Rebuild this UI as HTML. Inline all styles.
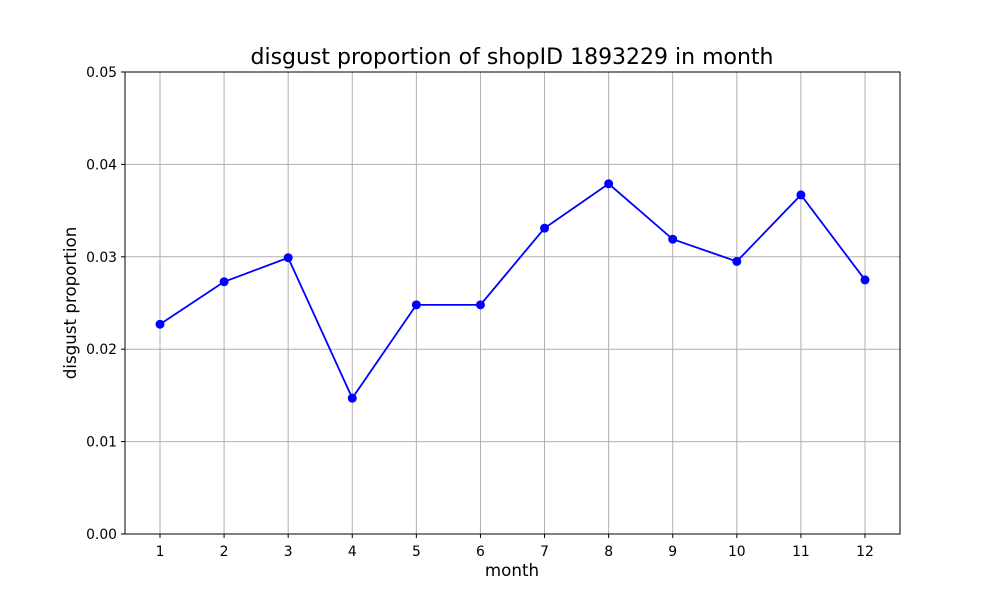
<!DOCTYPE html>
<html><head><meta charset="utf-8"><style>
body{margin:0;background:#fff;}
svg{display:block;font-family:"DejaVu Sans","Liberation Sans",sans-serif;}
</style></head><body>
<svg id="chart" width="1000" height="600">
<rect width="1000" height="600" fill="#fff"/>
<g id="grid"></g>
<g id="axes"></g>
<g id="series"></g>
<text x="512" y="64" text-anchor="middle" font-size="22">disgust proportion of shopID 1893229 in month</text>
<text x="512" y="576" text-anchor="middle" font-size="16.7">month</text>
<text x="76" y="303" text-anchor="middle" font-size="16.7" transform="rotate(-90 76 303)">disgust proportion</text>
</svg>
<script>
const months = [1,2,3,4,5,6,7,8,9,10,11,12];
const values = [0.0227,0.0273,0.0299,0.0147,0.0248,0.0248,0.0331,0.0379,0.0319,0.0295,0.0367,0.0275];
const yTicks = [0,0.01,0.02,0.03,0.04,0.05];
const yTickLabels = ["0.00","0.01","0.02","0.03","0.04","0.05"];

const L=125,R=900,T=72,B=534;
const x = m => 160 + (m-1)*(865-160)/11;
const y = v => B - (v/0.05)*(B-T);
const NS="http://www.w3.org/2000/svg";
function mk(tag, attrs, parent){const e=document.createElementNS(NS,tag);for(const k in attrs)e.setAttribute(k,attrs[k]);parent.appendChild(e);return e;}
const grid=document.getElementById('grid'), axes=document.getElementById('axes'), series=document.getElementById('series');

months.forEach(m=>{
  const gl=mk('line',{x1:x(m),x2:x(m),y1:T,y2:B,stroke:'#b0b0b0','stroke-width':1},grid);
  
  
  const tk=mk('line',{x1:x(m),x2:x(m),y1:B,y2:B+4,stroke:'#000'},axes);
  
  
  const t=mk('text',{x:x(m),y:B+22,'text-anchor':'middle','font-size':13.9},axes);
  t.textContent=m;
  
  
});
yTicks.forEach((v,i)=>{
  const gl=mk('line',{x1:L,x2:R,y1:y(v),y2:y(v),stroke:'#b0b0b0','stroke-width':1},grid);
  
  
  const tk=mk('line',{x1:L-4,x2:L,y1:y(v),y2:y(v),stroke:'#000'},axes);
  
  
  const t=mk('text',{x:L-8,y:y(v)+5,'text-anchor':'end','font-size':13.9},axes);
  t.textContent=yTickLabels[i];
  
  
});
const frame=mk('rect',{x:L,y:T,width:R-L,height:B-T,fill:'none',stroke:'#000','stroke-width':1},axes);



const pl=mk('polyline',{points:months.map((m,i)=>x(m)+','+y(values[i])).join(' '),fill:'none',stroke:'#0000ff','stroke-width':1.8},series);


months.forEach((m,i)=>{
  const c=mk('circle',{cx:x(m),cy:y(values[i]),r:4.5,fill:'#0000ff'},series);
  
  
});
</script>
</body></html>
